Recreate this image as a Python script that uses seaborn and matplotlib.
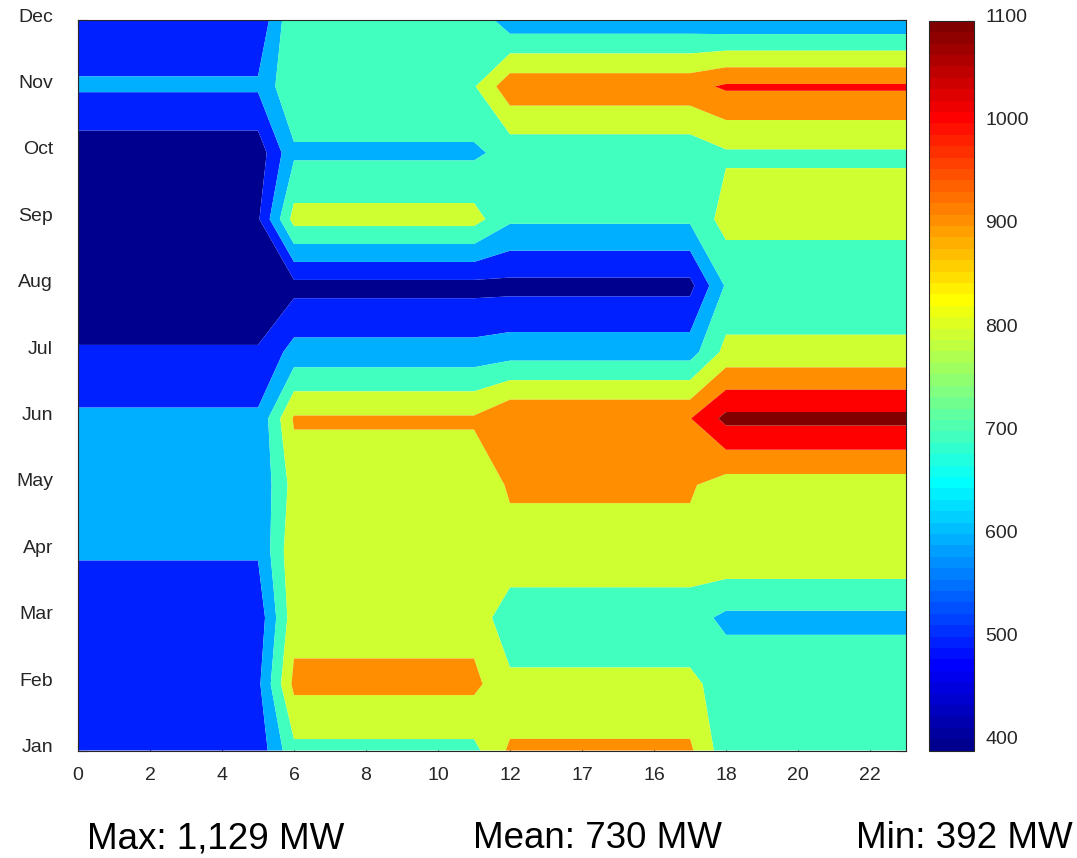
import numpy as np
import matplotlib
matplotlib.use("Agg")
import matplotlib.pyplot as plt
from matplotlib.colors import ListedColormap, Normalize
from matplotlib.cm import ScalarMappable
from matplotlib.transforms import ScaledTranslation
import seaborn as sns

months = ["Jan", "Feb", "Mar", "Apr", "May", "Jun",
          "Jul", "Aug", "Sep", "Oct", "Nov", "Dec"]
hour_ticks = [0, 2, 4, 6, 8, 10, 12, 14, 16, 18, 20, 22]
hour_tick_labels = ["0", "2", "4", "6", "8", "10", "12", "17", "16", "18", "20", "22"]

# load in MW, one value per month for each 6-hour block
load_00_05 = [536, 577, 537, 610, 615, 617, 513, 392, 486, 442, 615, 516]
load_06_11 = [774, 925, 860, 875, 840, 912, 637, 468, 838, 682, 792, 790]
load_12_17 = [917, 820, 740, 871, 911, 996, 656, 470, 717, 735, 967, 630]
load_18_23 = [740, 763, 678, 887, 855, 1129, 831, 712, 840, 788, 1015, 615]

levels = [400, 500, 600, 700, 800, 900, 1000, 1100]
clim = (392, 1100)
stats = ["Max: 1,129 MW", "Mean: 730 MW", "Min: 392 MW"]


def matlab_jet(n=64):
    i = np.arange(1, n + 1)
    q = n / 4
    r = np.clip(np.minimum((i - 1.5 * q) / q, (4.5 * q - i) / q), 0, 1)
    g = np.clip(np.minimum((i - 0.5 * q) / q, (3.5 * q - i) / q), 0, 1)
    b = np.clip(np.minimum((i + 0.5 * q) / q, (2.5 * q - i) / q), 0, 1)
    return np.column_stack([r, g, b])


jet = matlab_jet(64)
blocks = np.column_stack([load_00_05, load_06_11, load_12_17, load_18_23])
z = np.repeat(blocks, 6, axis=1)
hours = np.arange(24)
month_pos = np.arange(1, 13)

# each band takes the colour of its lower level (matlab style)
band_colors = []
for lv in levels:
    k = int((lv - clim[0]) / (1098.5 - clim[0]) * len(jet))
    band_colors.append(jet[min(k, len(jet) - 1)])
bounds = [min(300, z.min() - 1)] + levels[1:] + [max(1200, z.max() + 1)]

sns.set_style("ticks")
plt.rcParams["font.family"] = ["Liberation Sans", "DejaVu Sans"]

fig = plt.figure(figsize=(10.77, 8.58), dpi=100)
ax = fig.add_axes([78 / 1077, 1 - 750.5 / 858, 828 / 1077, 730.5 / 858])
ax.contourf(hours, month_pos, z, levels=bounds, colors=band_colors, antialiased=True)

ax.set_xlim(0, 23)
ax.set_ylim(1, 12)
ax.set_xticks(hour_ticks)
ax.set_xticklabels(hour_tick_labels)
ax.set_yticks(month_pos)
ax.set_yticklabels(months)
ax.tick_params(direction="in", length=6.5, width=0.8, top=True, right=True,
               labelsize=14, colors="#262626")
ax.tick_params(axis="x", pad=12)
ax.tick_params(axis="y", pad=18)
for s in ax.spines.values():
    s.set_visible(True)
    s.set_color("#262626")
    s.set_linewidth(0.8)

cax = fig.add_axes([929 / 1077, 1 - 750.7 / 858, 45 / 1077, 730 / 858])
sm = ScalarMappable(norm=Normalize(*clim), cmap=ListedColormap(jet))
cb = fig.colorbar(sm, cax=cax, ticks=levels)
cb.outline.set_edgecolor("#262626")
cb.outline.set_linewidth(0.8)
cax.tick_params(direction="in", length=6, width=0.8, labelsize=14, pad=8, colors="#262626")

# labels sit a little above their ticks in the original
lift = ScaledTranslation(0, 5 / 100, fig.dpi_scale_trans)
for lab in ax.get_yticklabels() + cax.get_yticklabels():
    lab.set_transform(lab.get_transform() + lift)

for xc, txt in zip([215.5, 597, 964.5], stats):
    fig.text(xc / 1077, 1 - 839 / 858, txt, ha="center", va="center",
             fontsize=26.5, color="black")

fig.savefig("out.png", dpi=100)
